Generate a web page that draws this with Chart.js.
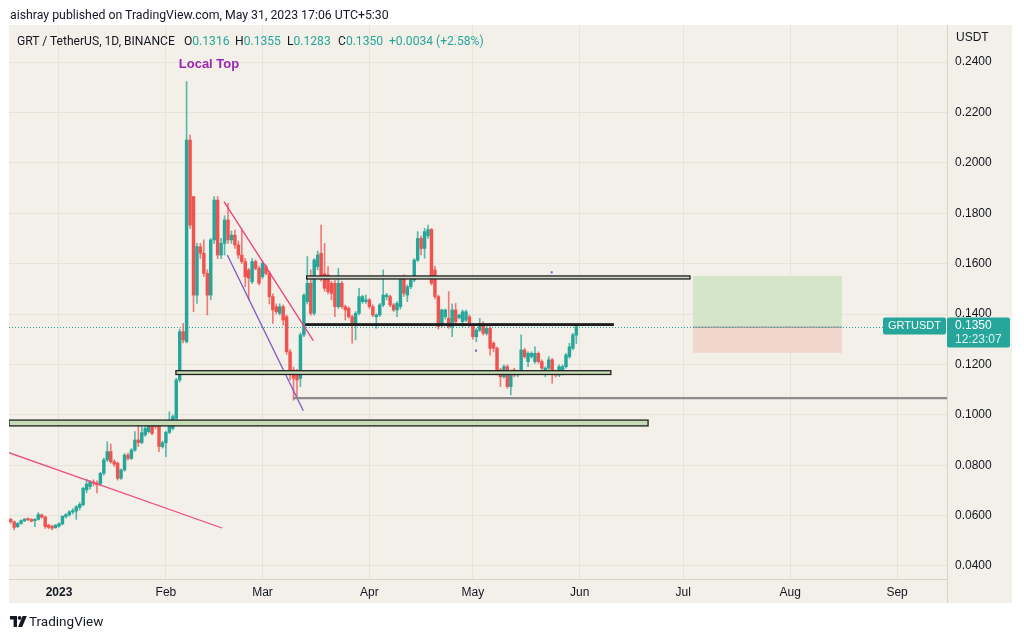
<!DOCTYPE html>
<html><head><meta charset="utf-8">
<script src="https://cdn.jsdelivr.net/npm/chart.js@4.4.0/dist/chart.umd.min.js"></script>
<style>
html,body{margin:0;padding:0;background:#fff;}
#wrap{position:relative;width:1024px;height:637px;overflow:hidden;font-family:Roboto,"Liberation Sans",Arial,sans-serif;}
canvas{position:absolute;left:0;top:0;}
.t{position:absolute;white-space:nowrap;color:#131722;font-size:12.1px;line-height:14px;}
.g{color:#26a69a;}
</style></head><body>
<div id="wrap">
<canvas id="c" width="1024" height="637"></canvas>
<div class="t" style="left:10px;top:8px;font-size:12.3px;">aishray published on TradingView.com, May 31, 2023 17:06 UTC+5:30</div>
<div class="t" style="left:17px;top:34px;">GRT / TetherUS, 1D, BINANCE</div>
<div class="t" style="left:184px;top:34px;">O<span class="g">0.1316</span></div>
<div class="t" style="left:235px;top:34px;">H<span class="g">0.1355</span></div>
<div class="t" style="left:287px;top:34px;">L<span class="g">0.1283</span></div>
<div class="t" style="left:338px;top:34px;">C<span class="g">0.1350</span></div>
<div class="t g" style="left:389px;top:34px;">+0.0034 (+2.58%)</div>
<div class="t" style="left:10px;top:613px;font-size:13.5px;line-height:16px;">
<svg width="17" height="11" viewBox="0 0 17 11" style="vertical-align:-1px;margin-right:2px"><path d="M0 0h7v11h-3.4v-7.6h-3.6z" fill="#131722"/><circle cx="9.6" cy="1.9" r="1.9" fill="#131722"/><path d="M12.6 0h4.2l-4.6 11h-4.1z" fill="#131722"/></svg>TradingView</div>
</div>
<script>
// day offsets from 2023-01-01; first candle = 2022-12-18
const START_DAY = -14;
const monthTicks = [0, 31, 59, 90, 120, 151, 181, 212, 243];
const monthLabels = ['2023', 'Feb', 'Mar', 'Apr', 'May', 'Jun', 'Jul', 'Aug', 'Sep'];
const priceTicks = [0.04, 0.06, 0.08, 0.10, 0.12, 0.14, 0.16, 0.18, 0.20, 0.22, 0.24];

const openP = [
 .0585,.0576,.0556,.0569,.0579,.0588,.0585,.0580,.0585,.0603,
 .0595,.0562,.0558,.0552,.0558,.0567,.0596,.0603,.0614,.0618,
 .0632,.0643,.0702,.0715,.0734,.0730,.0726,.0768,.0821,.0854,
 .0814,.0808,.0748,.0781,.0840,.0827,.0860,.0900,.0890,.0920,
 .0933,.0959,.0963,.0955,.0874,.0889,.0930,.0946,.0986,.1138,
 .1330,.1290,.2090,.1866,.1475,.1667,.1641,.1561,.1475,.1694,
 .1852,.1634,.1680,.1773,.1694,.1713,.1674,.1634,.1608,.1575,
 .1528,.1608,.1581,.1548,.1588,.1561,.1469,.1429,.1403,.1429,
 .1389,.1250,.1178,.1171,.1145,.1317,.1449,.1522,.1403,.1588,
 .1641,.1560,.1555,.1522,.1522,.1429,.1522,.1429,.1422,.1389,
 .1356,.1403,.1449,.1449,.1456,.1429,.1389,.1396,.1436,.1469,
 .1469,.1436,.1416,.1429,.1541,.1475,.1508,.1535,.1614,.1700,
 .1660,.1710,.1735,.1575,.1469,.1356,.1389,.1383,.1350,.1416,
 .1385,.1370,.1376,.1389,.1356,.1310,.1336,.1363,.1323,.1343,
 .1284,.1264,.1178,.1151,.1191,.1112,.1178,.1158,.1164,.1257,
 .1211,.1231,.1211,.1244,.1211,.1164,.1185,.1218,.1171,.1158,
 .1164,.1191,.1231,.1264,.1316];
const highP = [
 .0589,.0578,.0572,.0583,.0589,.0591,.0588,.0588,.0612,.0606,
 .0598,.0566,.0562,.0565,.0571,.0600,.0608,.0620,.0628,.0640,
 .0652,.0712,.0745,.0740,.0742,.0738,.0772,.0828,.0893,.0884,
 .0822,.0812,.0786,.0846,.0848,.0866,.0933,.0969,.0953,.0955,
 .0973,.0977,.0975,.0966,.0895,.0935,.1012,.1000,.1145,.1340,
 .1363,.2322,.2110,.1866,.1680,.1680,.1694,.1575,.1700,.1866,
 .1866,.1700,.1790,.1839,.1730,.1733,.1690,.1733,.1621,.1581,
 .1620,.1615,.1590,.1610,.1595,.1570,.1480,.1440,.1440,.1436,
 .1396,.1260,.1190,.1180,.1325,.1480,.1628,.1575,.1620,.1650,
 .1753,.1680,.1588,.1530,.1535,.1581,.1530,.1436,.1429,.1396,
 .1410,.1502,.1475,.1475,.1462,.1436,.1400,.1442,.1575,.1482,
 .1475,.1442,.1449,.1548,.1555,.1515,.1541,.1620,.1727,.1710,
 .1740,.1753,.1740,.1590,.1475,.1420,.1420,.1489,.1440,.1442,
 .1400,.1416,.1416,.1396,.1363,.1343,.1383,.1370,.1350,.1350,
 .1290,.1270,.1185,.1198,.1198,.1178,.1185,.1178,.1317,.1264,
 .1250,.1250,.1270,.1250,.1218,.1191,.1231,.1224,.1178,.1198,
 .1198,.1244,.1284,.1323,.1355];
const lowP = [
 .0569,.0543,.0552,.0565,.0576,.0580,.0575,.0556,.0582,.0590,
 .0549,.0548,.0543,.0549,.0554,.0563,.0590,.0598,.0607,.0585,
 .0622,.0638,.0690,.0705,.0718,.0690,.0718,.0760,.0815,.0808,
 .0795,.0741,.0744,.0776,.0820,.0822,.0855,.0874,.0885,.0915,
 .0928,.0920,.0945,.0854,.0868,.0834,.0925,.0940,.0980,.1130,
 .1285,.1285,.1740,.1409,.1442,.1620,.1548,.1396,.1456,.1680,
 .1620,.1620,.1634,.1680,.1680,.1660,.1620,.1600,.1508,.1456,
 .1520,.1575,.1515,.1540,.1555,.1440,.1363,.1400,.1396,.1356,
 .1240,.1138,.1058,.1065,.1112,.1310,.1440,.1395,.1395,.1575,
 .1530,.1490,.1480,.1456,.1389,.1422,.1422,.1376,.1383,.1284,
 .1297,.1396,.1442,.1442,.1422,.1389,.1343,.1390,.1429,.1456,
 .1429,.1410,.1389,.1420,.1470,.1449,.1500,.1528,.1608,.1634,
 .1621,.1700,.1515,.1460,.1340,.1350,.1380,.1343,.1310,.1360,
 .1380,.1350,.1370,.1350,.1300,.1290,.1330,.1316,.1316,.1237,
 .1250,.1158,.1112,.1145,.1105,.1079,.1150,.1151,.1158,.1224,
 .1191,.1224,.1204,.1204,.1178,.1151,.1178,.1125,.1150,.1151,
 .1158,.1185,.1224,.1257,.1283];
const closeP = [
 .0576,.0553,.0569,.0580,.0586,.0584,.0578,.0585,.0604,.0594,
 .0556,.0553,.0550,.0562,.0568,.0597,.0604,.0615,.0620,.0635,
 .0645,.0708,.0725,.0734,.0728,.0722,.0768,.0821,.0854,.0814,
 .0804,.0748,.0781,.0840,.0827,.0860,.0900,.0890,.0929,.0946,
 .0959,.0926,.0953,.0874,.0889,.0930,.0953,.0993,.1138,.1330,
 .1297,.2090,.1753,.1475,.1667,.1641,.1561,.1475,.1694,.1852,
 .1634,.1680,.1773,.1694,.1713,.1674,.1634,.1608,.1548,.1542,
 .1608,.1581,.1522,.1601,.1561,.1469,.1416,.1409,.1429,.1376,
 .1250,.1171,.1145,.1138,.1317,.1475,.1522,.1403,.1614,.1634,
 .1548,.1502,.1489,.1482,.1429,.1522,.1429,.1416,.1389,.1363,
 .1403,.1469,.1469,.1456,.1429,.1396,.1396,.1436,.1475,.1475,
 .1436,.1416,.1442,.1541,.1482,.1508,.1535,.1614,.1700,.1660,
 .1727,.1735,.1522,.1469,.1350,.1416,.1416,.1350,.1416,.1370,
 .1396,.1409,.1409,.1363,.1310,.1336,.1363,.1323,.1343,.1264,
 .1264,.1164,.1151,.1191,.1112,.1171,.1158,.1171,.1257,.1231,
 .1244,.1244,.1244,.1211,.1185,.1185,.1218,.1164,.1158,.1191,
 .1191,.1237,.1270,.1317,.1350];

const lastPrice = 0.1350;

// drawings (in day / price units)
const trendLines = [
  {p: [[-14.5, 0.08496], [47.26, 0.05508]], color: '#ec4f85'},
  {p: [[47.84, 0.18456], [73.73, 0.12940]], color: '#ec407a'},
  {p: [[48.80, 0.16341], [70.83, 0.10163]], color: '#7e57c2'}
];
const levelBoxes = [
  {x0: 71.8, x1: 182.95, lo: 0.1539, hi: 0.1551, fill: '#cfd6c6'},
  {x0: 71.6, x1: 160.7, lo: 0.1355, hi: 0.1361, fill: '#1f1f1f'},
  {x0: 33.9, x1: 160.0, lo: 0.1160, hi: 0.1175, fill: '#c5dcb4'},
  {x0: -14.5, x1: 170.8, lo: 0.0956, hi: 0.0979, fill: '#c5dcb4'}
];
const grayLevel = {x0: 67.9, price: 0.1066};
const position = {x0: 183.8, x1: 227.0, target: 0.1551, entry: 0.1350, stop: 0.1246};
const markDots = [[142.85, 0.15655], [120.9, 0.12544]];
const note = {x: 43.49, y: 0.23921, text: 'Local Top'};

const UP = '#26a69a', DOWN = '#ef5350';
const UPW = 'rgba(38,166,154,0.75)', DOWNW = 'rgba(239,83,80,0.75)';
const days = openP.map((_, i) => START_DAY + i);
const cols = openP.map((o, i) => closeP[i] >= o ? UP : DOWN);
const wcols = openP.map((o, i) => closeP[i] >= o ? UPW : DOWNW);

const wickData = days.map((d, i) => ({x: d, y: [lowP[i], highP[i]]}));
const bodyData = days.map((d, i) => {
  let a = Math.min(openP[i], closeP[i]), b = Math.max(openP[i], closeP[i]);
  if (b - a < 0.0003) { b = a + 0.0003; }
  return {x: d, y: [a, b]};
});

const FONT = '"Liberation Sans", Arial, sans-serif';

const overlay = {
  id: 'overlay',
  beforeDraw(chart) {
    const c = chart.ctx;
    c.save();
    c.fillStyle = '#ffffff';
    c.fillRect(0, 0, chart.width, chart.height);
    c.fillStyle = '#f3f0e9';
    c.fillRect(9, 25, 1003, 578);
    c.restore();
  },
  beforeDatasetsDraw(chart) {
    const c = chart.ctx, x = chart.scales.x, y = chart.scales.y, a = chart.chartArea;
    c.save();
    c.beginPath(); c.rect(a.left, a.top, a.right - a.left, a.bottom - a.top); c.clip();
    const px0 = x.getPixelForValue(position.x0), px1 = x.getPixelForValue(position.x1);
    const pt = y.getPixelForValue(position.target), pe = y.getPixelForValue(position.entry), ps = y.getPixelForValue(position.stop);
    c.fillStyle = '#d4e5c9'; c.fillRect(px0, pt, px1 - px0, pe - pt);
    c.fillStyle = '#f1d6cd'; c.fillRect(px0, pe, px1 - px0, ps - pe);
    c.strokeStyle = '#8a8a8a'; c.lineWidth = 1;
    c.beginPath(); c.moveTo(px0, pe + 0.5); c.lineTo(px1, pe + 0.5); c.stroke();
    const lp = Math.round(y.getPixelForValue(lastPrice)) + 0.5;
    c.strokeStyle = UP; c.setLineDash([1, 2]);
    c.beginPath(); c.moveTo(a.left, lp); c.lineTo(a.right, lp); c.stroke();
    c.restore();
  },
  afterDatasetsDraw(chart) {
    const c = chart.ctx, x = chart.scales.x, y = chart.scales.y, a = chart.chartArea;
    c.save();
    c.beginPath(); c.rect(a.left, a.top, a.right - a.left, a.bottom - a.top); c.clip();
    const gy = y.getPixelForValue(grayLevel.price);
    c.strokeStyle = '#8c8c8c'; c.lineWidth = 2.2;
    c.beginPath(); c.moveTo(x.getPixelForValue(grayLevel.x0), gy); c.lineTo(a.right, gy); c.stroke();
    levelBoxes.forEach(b => {
      const x0 = x.getPixelForValue(b.x0), x1 = x.getPixelForValue(b.x1);
      const y0 = y.getPixelForValue(b.hi), y1 = y.getPixelForValue(b.lo);
      c.fillStyle = b.fill; c.fillRect(x0, y0, x1 - x0, y1 - y0);
      c.strokeStyle = '#1f1f1f'; c.lineWidth = 1.3;
      c.strokeRect(x0, y0, x1 - x0, y1 - y0);
    });
    c.fillStyle = '#7e57c2';
    markDots.forEach(p => {
      c.fillRect(x.getPixelForValue(p[0]) - 1, y.getPixelForValue(p[1]) - 1, 2, 2);
    });
    c.fillStyle = '#9c27b0';
    c.font = 'bold 13px ' + FONT;
    c.textAlign = 'center'; c.textBaseline = 'middle';
    c.fillText(note.text, x.getPixelForValue(note.x), y.getPixelForValue(note.y));
    c.restore();
  },
  afterDraw(chart) {
    const c = chart.ctx, y = chart.scales.y;
    c.save();
    c.fillStyle = '#131722';
    c.font = '12px ' + FONT;
    c.textAlign = 'left'; c.textBaseline = 'middle';
    c.fillText('USDT', 956, 38);
    c.strokeStyle = '#d9d4ca'; c.lineWidth = 1;
    c.beginPath(); c.moveTo(947.5, 25); c.lineTo(947.5, 603); c.stroke();
    const lp = y.getPixelForValue(lastPrice);
    c.fillStyle = UP;
    roundRect(c, 883, lp - 9, 63, 17, 2); c.fill();
    roundRect(c, 947, lp - 9, 63, 30, 2); c.fill();
    c.fillStyle = '#ffffff';
    c.font = '11px ' + FONT;
    c.fillText('GRTUSDT', 888, lp - 0.5);
    c.font = '12px ' + FONT;
    c.fillText(lastPrice.toFixed(4), 955, lp - 0.5);
    c.fillStyle = 'rgba(255,255,255,0.85)';
    c.fillText('12:23:07', 955, lp + 13.5);
    c.restore();
  }
};
function roundRect(c, x, y, w, h, r) {
  c.beginPath();
  c.moveTo(x + r, y); c.lineTo(x + w - r, y); c.quadraticCurveTo(x + w, y, x + w, y + r);
  c.lineTo(x + w, y + h - r); c.quadraticCurveTo(x + w, y + h, x + w - r, y + h);
  c.lineTo(x + r, y + h); c.quadraticCurveTo(x, y + h, x, y + h - r);
  c.lineTo(x, y + r); c.quadraticCurveTo(x, y, x + r, y); c.closePath();
}

const datasets = [
  {type: 'bar', data: wickData, backgroundColor: wcols, barThickness: 1, grouped: false, order: 3, borderWidth: 0},
  {type: 'bar', data: bodyData, backgroundColor: cols, barThickness: 2.8, grouped: false, order: 2, borderWidth: 0}
];
trendLines.forEach(t => datasets.push({
  type: 'line', data: t.p.map(p => ({x: p[0], y: p[1]})), borderColor: t.color,
  borderWidth: 1.3, pointRadius: 0, fill: false, order: 0, tension: 0
}));

new Chart(document.getElementById('c'), {
  type: 'bar',
  data: {datasets},
  options: {
    responsive: false, animation: false,
    layout: {padding: {left: 9, top: 25, right: 12, bottom: 34}},
    plugins: {legend: {display: false}, tooltip: {enabled: false}},
    events: [],
    scales: {
      x: {
        type: 'linear', min: -14.497, max: 257.47, offset: false,
        grid: {color: '#e7e3da', drawTicks: false, offset: false},
        border: {color: '#d9d4ca'},
        afterBuildTicks: s => { s.ticks = monthTicks.map(v => ({value: v})); },
        afterFit: s => { s.height = 24; },
        ticks: {
          padding: 6, color: '#131722', autoSkip: false, maxRotation: 0,
          font: ctx => ({family: FONT, size: 12, weight: (ctx.tick && ctx.tick.value === 0) ? 'bold' : 'normal'}),
          callback: v => monthLabels[monthTicks.indexOf(v)]
        }
      },
      y: {
        type: 'linear', position: 'right', min: 0.034841, max: 0.254683,
        grid: {color: '#e7e3da', drawTicks: false},
        border: {color: '#d9d4ca'},
        afterBuildTicks: s => { s.ticks = priceTicks.map(v => ({value: v})); },
        afterFit: s => { s.width = 65; },
        ticks: {padding: 8, color: '#131722', font: {family: FONT, size: 12}, callback: v => v.toFixed(4)}
      }
    }
  },
  plugins: [overlay]
});
</script>
</body></html>
